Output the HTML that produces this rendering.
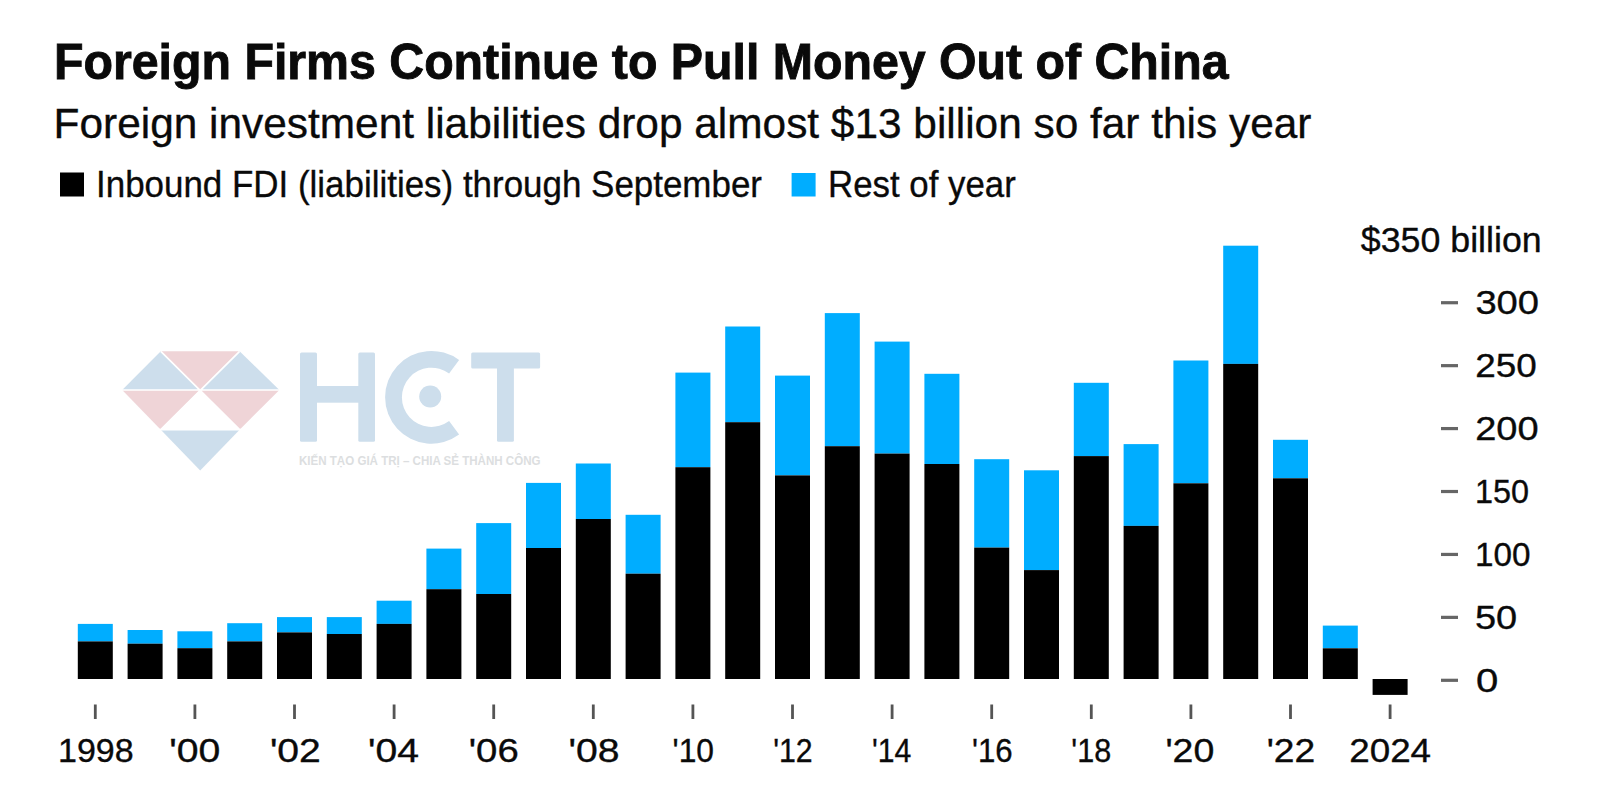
<!DOCTYPE html>
<html><head><meta charset="utf-8">
<style>
html,body{margin:0;padding:0;background:#fff;}
body{width:1600px;height:807px;overflow:hidden;position:relative;}
svg{position:absolute;left:0;top:0;display:block;}
text{font-family:"Liberation Sans",sans-serif;fill:#0a0a0a;}
</style></head><body>
<svg width="1600" height="807" viewBox="0 0 1600 807">
<rect width="1600" height="807" fill="#fff"/>
<g id="logo">
 <g>
  <polygon points="122.2,390 160.8,351.3 199.9,390" fill="#CDDEEC"/>
  <polygon points="160.8,351.3 239.6,351.3 200.2,390" fill="#EFD4D7"/>
  <polygon points="200.2,390 239.6,351.3 279.4,390" fill="#CDDEEC"/>
  <polygon points="122.2,390 200.2,390 160.8,429.7" fill="#EFD4D7"/>
  <polygon points="200.2,390 279.4,390 239.6,429.7" fill="#EFD4D7"/>
  <polygon points="160.8,429.7 239.6,429.7 200.2,470.6" fill="#CDDEEC"/>
 </g>
 <g stroke="#fff" stroke-width="1.7" fill="none">
  <path d="M160.8,351.3 L239.6,429.7 M239.6,351.3 L160.8,429.7 M118,390 L284,390 M155,429.7 L245,429.7"/>
 </g>
 <g fill="#CDDEEC">
  <rect x="300" y="352.5" width="17" height="89.2" rx="1.5"/>
  <rect x="358.3" y="352.5" width="16.7" height="89.2" rx="1.5"/>
  <rect x="316" y="386" width="43" height="16.7"/>
  <path d="M459.10,360.00 A46.4,46.4 0 1 0 459.10,434.60 L449.11,421.09 A29.6,29.6 0 1 1 449.11,373.51 Z"/>
  <circle cx="430.2" cy="396.5" r="11"/>
  <rect x="471.2" y="352.5" width="68.9" height="15.9" rx="1.5"/>
  <rect x="497" y="360" width="16.9" height="81.7" rx="1.5"/>
 </g>
 <text x="299" y="465.1" font-size="12.4" font-weight="bold" style="fill:#DCDEE0" textLength="241.5" lengthAdjust="spacingAndGlyphs">KIẾN TẠO GIÁ TRỊ – CHIA SẺ THÀNH CÔNG</text>
</g>
<g id="bars">
<rect x="77.80" y="623.9" width="35.0" height="17.5" fill="#00ADFF"/>
<rect x="77.80" y="641.4" width="35.0" height="37.6" fill="#000"/>
<rect x="127.60" y="630.0" width="35.0" height="13.7" fill="#00ADFF"/>
<rect x="127.60" y="643.7" width="35.0" height="35.3" fill="#000"/>
<rect x="177.40" y="631.3" width="35.0" height="16.9" fill="#00ADFF"/>
<rect x="177.40" y="648.2" width="35.0" height="30.8" fill="#000"/>
<rect x="227.20" y="623.2" width="35.0" height="18.2" fill="#00ADFF"/>
<rect x="227.20" y="641.4" width="35.0" height="37.6" fill="#000"/>
<rect x="277.00" y="617.1" width="35.0" height="15.3" fill="#00ADFF"/>
<rect x="277.00" y="632.4" width="35.0" height="46.6" fill="#000"/>
<rect x="326.80" y="617.1" width="35.0" height="16.9" fill="#00ADFF"/>
<rect x="326.80" y="634.0" width="35.0" height="45.0" fill="#000"/>
<rect x="376.60" y="600.7" width="35.0" height="23.2" fill="#00ADFF"/>
<rect x="376.60" y="623.9" width="35.0" height="55.1" fill="#000"/>
<rect x="426.40" y="548.6" width="35.0" height="40.6" fill="#00ADFF"/>
<rect x="426.40" y="589.2" width="35.0" height="89.8" fill="#000"/>
<rect x="476.20" y="523.1" width="35.0" height="70.9" fill="#00ADFF"/>
<rect x="476.20" y="594.0" width="35.0" height="85.0" fill="#000"/>
<rect x="526.00" y="482.9" width="35.0" height="65.1" fill="#00ADFF"/>
<rect x="526.00" y="548.0" width="35.0" height="131.0" fill="#000"/>
<rect x="575.80" y="463.5" width="35.0" height="55.5" fill="#00ADFF"/>
<rect x="575.80" y="519.0" width="35.0" height="160.0" fill="#000"/>
<rect x="625.60" y="514.8" width="35.0" height="58.9" fill="#00ADFF"/>
<rect x="625.60" y="573.7" width="35.0" height="105.3" fill="#000"/>
<rect x="675.40" y="372.6" width="35.0" height="94.6" fill="#00ADFF"/>
<rect x="675.40" y="467.2" width="35.0" height="211.8" fill="#000"/>
<rect x="725.20" y="326.5" width="35.0" height="95.7" fill="#00ADFF"/>
<rect x="725.20" y="422.2" width="35.0" height="256.8" fill="#000"/>
<rect x="775.00" y="375.6" width="35.0" height="99.8" fill="#00ADFF"/>
<rect x="775.00" y="475.4" width="35.0" height="203.6" fill="#000"/>
<rect x="824.80" y="313.1" width="35.0" height="133.1" fill="#00ADFF"/>
<rect x="824.80" y="446.2" width="35.0" height="232.8" fill="#000"/>
<rect x="874.60" y="341.6" width="35.0" height="112.0" fill="#00ADFF"/>
<rect x="874.60" y="453.6" width="35.0" height="225.4" fill="#000"/>
<rect x="924.40" y="373.8" width="35.0" height="90.2" fill="#00ADFF"/>
<rect x="924.40" y="464.0" width="35.0" height="215.0" fill="#000"/>
<rect x="974.20" y="459.2" width="35.0" height="88.4" fill="#00ADFF"/>
<rect x="974.20" y="547.6" width="35.0" height="131.4" fill="#000"/>
<rect x="1024.00" y="470.3" width="35.0" height="99.8" fill="#00ADFF"/>
<rect x="1024.00" y="570.1" width="35.0" height="108.9" fill="#000"/>
<rect x="1073.80" y="382.8" width="35.0" height="73.3" fill="#00ADFF"/>
<rect x="1073.80" y="456.1" width="35.0" height="222.9" fill="#000"/>
<rect x="1123.60" y="444.1" width="35.0" height="81.8" fill="#00ADFF"/>
<rect x="1123.60" y="525.9" width="35.0" height="153.1" fill="#000"/>
<rect x="1173.40" y="360.5" width="35.0" height="122.8" fill="#00ADFF"/>
<rect x="1173.40" y="483.3" width="35.0" height="195.7" fill="#000"/>
<rect x="1223.20" y="245.7" width="35.0" height="118.2" fill="#00ADFF"/>
<rect x="1223.20" y="363.9" width="35.0" height="315.1" fill="#000"/>
<rect x="1273.00" y="439.8" width="35.0" height="38.5" fill="#00ADFF"/>
<rect x="1273.00" y="478.3" width="35.0" height="200.7" fill="#000"/>
<rect x="1322.80" y="625.6" width="35.0" height="22.7" fill="#00ADFF"/>
<rect x="1322.80" y="648.3" width="35.0" height="30.7" fill="#000"/>
<rect x="1372.60" y="679.0" width="35.0" height="15.9" fill="#000"/>
</g>
<g id="xticks"><rect x="93.90" y="704.5" width="2.8" height="14.5" fill="#555"/><rect x="193.50" y="704.5" width="2.8" height="14.5" fill="#555"/><rect x="293.10" y="704.5" width="2.8" height="14.5" fill="#555"/><rect x="392.70" y="704.5" width="2.8" height="14.5" fill="#555"/><rect x="492.30" y="704.5" width="2.8" height="14.5" fill="#555"/><rect x="591.90" y="704.5" width="2.8" height="14.5" fill="#555"/><rect x="691.50" y="704.5" width="2.8" height="14.5" fill="#555"/><rect x="791.10" y="704.5" width="2.8" height="14.5" fill="#555"/><rect x="890.70" y="704.5" width="2.8" height="14.5" fill="#555"/><rect x="990.30" y="704.5" width="2.8" height="14.5" fill="#555"/><rect x="1089.90" y="704.5" width="2.8" height="14.5" fill="#555"/><rect x="1189.50" y="704.5" width="2.8" height="14.5" fill="#555"/><rect x="1289.10" y="704.5" width="2.8" height="14.5" fill="#555"/><rect x="1388.70" y="704.5" width="2.8" height="14.5" fill="#555"/></g>
<g id="yticks"><rect x="1441" y="678.70" width="17" height="3.2" fill="#666"/><rect x="1441" y="615.77" width="17" height="3.2" fill="#666"/><rect x="1441" y="552.84" width="17" height="3.2" fill="#666"/><rect x="1441" y="489.91" width="17" height="3.2" fill="#666"/><rect x="1441" y="426.98" width="17" height="3.2" fill="#666"/><rect x="1441" y="364.05" width="17" height="3.2" fill="#666"/><rect x="1441" y="301.12" width="17" height="3.2" fill="#666"/></g>
<text id="title" x="54.00" y="79.0" font-size="49.8" font-weight="bold" textLength="1174.61" lengthAdjust="spacingAndGlyphs" stroke="#0a0a0a" stroke-width="0.9">Foreign Firms Continue to Pull Money Out of China</text>
<text id="subtitle" x="53.60" y="138.1" font-size="43" font-weight="normal" textLength="1257.82" lengthAdjust="spacingAndGlyphs" stroke="#0a0a0a" stroke-width="0.35">Foreign investment liabilities drop almost $13 billion so far this year</text>
<text id="leg1" x="96.00" y="196.5" font-size="37.5" font-weight="normal" textLength="665.97" lengthAdjust="spacingAndGlyphs" stroke="#0a0a0a" stroke-width="0.35">Inbound FDI (liabilities) through September</text>
<text id="leg2" x="828.00" y="196.5" font-size="37.5" font-weight="normal" textLength="187.75" lengthAdjust="spacingAndGlyphs" stroke="#0a0a0a" stroke-width="0.35">Rest of year</text>
<text id="unit" x="1360.80" y="252.1" font-size="34.5" font-weight="normal" textLength="180.92" lengthAdjust="spacingAndGlyphs" stroke="#0a0a0a" stroke-width="0.35">$350 billion</text>
<text id="y0" x="1476.00" y="691.6" font-size="34" font-weight="normal" textLength="22.32" lengthAdjust="spacingAndGlyphs" stroke="#0a0a0a" stroke-width="0.35">0</text>
<text id="y50" x="1475.00" y="628.7" font-size="34" font-weight="normal" textLength="42.21" lengthAdjust="spacingAndGlyphs" stroke="#0a0a0a" stroke-width="0.35">50</text>
<text id="y100" x="1475.00" y="565.8" font-size="34" font-weight="normal" textLength="55.50" lengthAdjust="spacingAndGlyphs" stroke="#0a0a0a" stroke-width="0.35">100</text>
<text id="y150" x="1475.00" y="502.9" font-size="34" font-weight="normal" textLength="54.00" lengthAdjust="spacingAndGlyphs" stroke="#0a0a0a" stroke-width="0.35">150</text>
<text id="y200" x="1475.20" y="440.0" font-size="34" font-weight="normal" textLength="63.46" lengthAdjust="spacingAndGlyphs" stroke="#0a0a0a" stroke-width="0.35">200</text>
<text id="y250" x="1475.20" y="377.1" font-size="34" font-weight="normal" textLength="61.54" lengthAdjust="spacingAndGlyphs" stroke="#0a0a0a" stroke-width="0.35">250</text>
<text id="y300" x="1475.40" y="314.2" font-size="34" font-weight="normal" textLength="63.69" lengthAdjust="spacingAndGlyphs" stroke="#0a0a0a" stroke-width="0.35">300</text>
<text id="x0" x="58.00" y="762.3" font-size="33.5" font-weight="normal" textLength="75.64" lengthAdjust="spacingAndGlyphs" stroke="#0a0a0a" stroke-width="0.35">1998</text>
<text id="x1" x="169.20" y="762.3" font-size="33.5" font-weight="normal" textLength="51.07" lengthAdjust="spacingAndGlyphs" stroke="#0a0a0a" stroke-width="0.35">'00</text>
<text id="x2" x="269.90" y="762.3" font-size="33.5" font-weight="normal" textLength="50.97" lengthAdjust="spacingAndGlyphs" stroke="#0a0a0a" stroke-width="0.35">'02</text>
<text id="x3" x="368.10" y="762.3" font-size="33.5" font-weight="normal" textLength="50.95" lengthAdjust="spacingAndGlyphs" stroke="#0a0a0a" stroke-width="0.35">'04</text>
<text id="x4" x="468.80" y="762.3" font-size="33.5" font-weight="normal" textLength="49.93" lengthAdjust="spacingAndGlyphs" stroke="#0a0a0a" stroke-width="0.35">'06</text>
<text id="x5" x="568.50" y="762.3" font-size="33.5" font-weight="normal" textLength="51.00" lengthAdjust="spacingAndGlyphs" stroke="#0a0a0a" stroke-width="0.35">'08</text>
<text id="x6" x="672.60" y="762.3" font-size="33.5" font-weight="normal" textLength="41.42" lengthAdjust="spacingAndGlyphs" stroke="#0a0a0a" stroke-width="0.35">'10</text>
<text id="x7" x="773.20" y="762.3" font-size="33.5" font-weight="normal" textLength="39.47" lengthAdjust="spacingAndGlyphs" stroke="#0a0a0a" stroke-width="0.35">'12</text>
<text id="x8" x="871.90" y="762.3" font-size="33.5" font-weight="normal" textLength="39.30" lengthAdjust="spacingAndGlyphs" stroke="#0a0a0a" stroke-width="0.35">'14</text>
<text id="x9" x="972.00" y="762.3" font-size="33.5" font-weight="normal" textLength="40.67" lengthAdjust="spacingAndGlyphs" stroke="#0a0a0a" stroke-width="0.35">'16</text>
<text id="x10" x="1071.30" y="762.3" font-size="33.5" font-weight="normal" textLength="39.84" lengthAdjust="spacingAndGlyphs" stroke="#0a0a0a" stroke-width="0.35">'18</text>
<text id="x11" x="1165.40" y="762.3" font-size="33.5" font-weight="normal" textLength="48.87" lengthAdjust="spacingAndGlyphs" stroke="#0a0a0a" stroke-width="0.35">'20</text>
<text id="x12" x="1266.70" y="762.3" font-size="33.5" font-weight="normal" textLength="48.53" lengthAdjust="spacingAndGlyphs" stroke="#0a0a0a" stroke-width="0.35">'22</text>
<text id="x13" x="1349.25" y="762.3" font-size="33.5" font-weight="normal" textLength="81.80" lengthAdjust="spacingAndGlyphs" stroke="#0a0a0a" stroke-width="0.35">2024</text>
<rect x="60" y="172.5" width="24" height="24" fill="#000"/>
<rect x="791.6" y="173" width="24" height="23.5" fill="#00ADFF"/>
</svg>
</body></html>
